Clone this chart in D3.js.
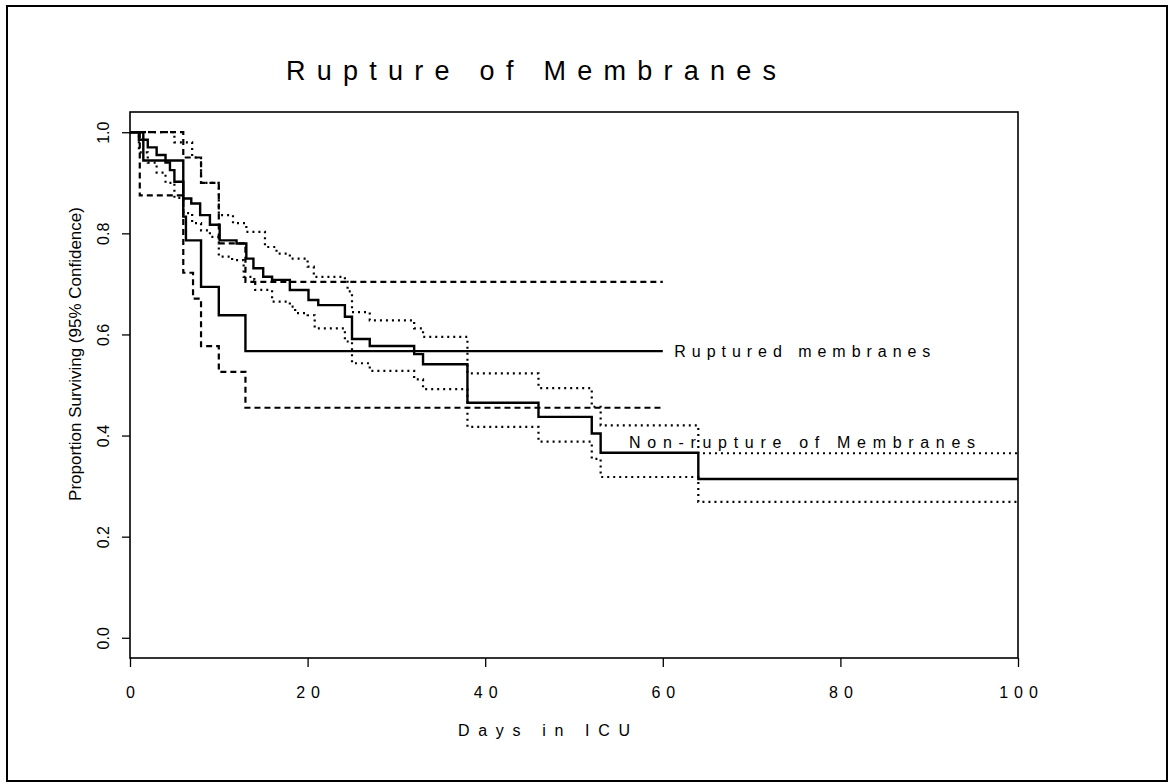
<!DOCTYPE html>
<html><head><meta charset="utf-8">
<script src="https://cdn.jsdelivr.net/npm/d3@7"></script>
<style>body{margin:0;background:#fff}svg{display:block}text{font-family:Arial,"Liberation Sans",sans-serif;fill:#000}</style>
</head><body><svg id="c" width="1173" height="784"></svg>
<script>
// ---- data ----
const xTicks = [0, 20, 40, 60, 80, 100];
const xTickLabels = ["0", "20", "40", "60", "80", "100"];
const yTicks = [0, 0.2, 0.4, 0.6, 0.8, 1.0];
const yTickLabels = ["0.0", "0.2", "0.4", "0.6", "0.8", "1.0"];

const rupDays  = [0, 1.5, 6, 6.3, 8, 10, 13, 60];
const rupSurv  = [1.0, 0.944, 0.833, 0.786, 0.694, 0.638, 0.567, 0.567];
const rupUpDays = [0, 6, 8, 10, 13, 60];
const rupUp     = [1.0, 0.95, 0.9, 0.78, 0.704, 0.704];
const rupLoDays = [0, 1.1, 6, 7.1, 8, 10, 13, 60];
const rupLo     = [1.0, 0.875, 0.722, 0.671, 0.577, 0.526, 0.455, 0.455];

const nonDays = [0, 1, 2, 3, 4, 4.5, 5, 6, 6.9, 7.9, 9, 10.1, 12, 13.1, 13.9, 15, 16, 18, 20.1, 21.2, 24.2, 25, 27, 32, 33, 38, 46, 52, 53, 64, 100];
const nonSurv = [1, 0.985, 0.97, 0.955, 0.94, 0.925, 0.902, 0.869, 0.859, 0.836, 0.817, 0.786, 0.78, 0.75, 0.731, 0.714, 0.708, 0.688, 0.668, 0.658, 0.635, 0.591, 0.577, 0.561, 0.541, 0.465, 0.437, 0.404, 0.366, 0.314, 0.314];
const nonUpDays = [0, 3, 5, 7, 8, 10, 11.6, 13.1, 15.2, 16.5, 18, 20, 20.7, 24.2, 24.5, 25, 27, 32, 33, 38, 46, 52, 53, 64, 100];
const nonUp     = [1, 1, 0.98, 0.95, 0.9, 0.836, 0.82, 0.803, 0.773, 0.76, 0.75, 0.734, 0.714, 0.708, 0.685, 0.644, 0.628, 0.612, 0.595, 0.523, 0.494, 0.457, 0.42, 0.365, 0.365];
const nonLoDays = [0, 1, 2, 3, 4, 5, 6, 7, 8, 9, 10, 11.5, 12.8, 14, 14.1, 16, 18, 18.6, 20, 20.8, 24.2, 25, 27, 32, 33, 38, 46, 52, 53, 64, 100];
const nonLo     = [1, 0.96, 0.94, 0.92, 0.9, 0.87, 0.84, 0.82, 0.806, 0.793, 0.754, 0.747, 0.714, 0.708, 0.688, 0.665, 0.655, 0.642, 0.638, 0.612, 0.586, 0.543, 0.528, 0.511, 0.492, 0.417, 0.388, 0.354, 0.318, 0.269, 0.269];

const title = "Rupture of Membranes";
const xLabel = "Days in ICU";
const yLabel = "Proportion Surviving (95% Confidence)";
const rupLabel = "Ruptured membranes";
const nonLabel = "Non-rupture of Membranes";

// ---- drawing ----
const svg = d3.select("#c");
const L = 130, R = 1018, T = 112, B = 658;
const x = d3.scaleLinear().domain([0, 100]).range([L, R]);
const y = d3.scaleLinear().domain([-0.04, 1.04]).range([B, T]);

svg.append("rect").attr("x", 7).attr("y", 6).attr("width", 1160).attr("height", 775)
  .attr("fill", "none").attr("stroke", "#000").attr("stroke-width", 2);
svg.append("rect").attr("x", L).attr("y", T).attr("width", R - L).attr("height", B - T)
  .attr("fill", "none").attr("stroke", "#000").attr("stroke-width", 1.6);

const gx = svg.append("g").attr("transform", `translate(0,${B})`)
  .call(d3.axisBottom(x).tickValues(xTicks).tickSize(9).tickFormat((d, i) => xTickLabels[i]));
gx.select(".domain").remove();
gx.selectAll("line").attr("stroke", "#000").attr("stroke-width", 1.3);
gx.selectAll("text").attr("font-size", 16).attr("dy", "0").attr("y", 40)
  .attr("letter-spacing", "6px").attr("dx", "3");

const gy = svg.append("g").attr("transform", `translate(${L},0)`)
  .call(d3.axisLeft(y).tickValues(yTicks).tickSize(8).tickFormat((d, i) => yTickLabels[i]));
gy.select(".domain").remove();
gy.selectAll("line").attr("stroke", "#000").attr("stroke-width", 1.3);
gy.selectAll("text").attr("font-size", 16).attr("x", 0).attr("dy", 0)
  .attr("text-anchor", "middle")
  .attr("transform", "translate(-21,0) rotate(-90)");

svg.append("text").attr("x", 286).attr("y", 80).attr("font-size", 27)
  .attr("textLength", 490).attr("lengthAdjust", "spacing").text(title);
svg.append("text").attr("x", 458).attr("y", 736).attr("font-size", 16)
  .attr("textLength", 172).attr("lengthAdjust", "spacing").text(xLabel);
svg.append("text").attr("transform", `translate(81,354) rotate(-90)`)
  .attr("text-anchor", "middle").attr("font-size", 17).text(yLabel);

const mk = (ds, vs) => ds.map((d, i) => [d, vs[i]]);
const line = d3.line().x(d => x(d[0])).y(d => y(d[1])).curve(d3.curveStepAfter);
const g = svg.append("g").attr("fill", "none").attr("stroke", "#000");
g.append("path").attr("d", line(mk(nonUpDays, nonUp))).attr("stroke-width", 2.2).attr("stroke-dasharray", "2,4");
g.append("path").attr("d", line(mk(nonLoDays, nonLo))).attr("stroke-width", 2.2).attr("stroke-dasharray", "2,4");
g.append("path").attr("d", line(mk(rupUpDays, rupUp))).attr("stroke-width", 2.2).attr("stroke-dasharray", "6,4");
g.append("path").attr("d", line(mk(rupLoDays, rupLo))).attr("stroke-width", 2.2).attr("stroke-dasharray", "6,4");
g.append("path").attr("d", line(mk(nonDays, nonSurv))).attr("stroke-width", 2.4);
g.append("path").attr("d", line(mk(rupDays, rupSurv))).attr("stroke-width", 2.4);

svg.append("text").attr("x", x(61.3)).attr("y", y(0.567) + 6).attr("font-size", 16)
  .attr("textLength", 256).attr("lengthAdjust", "spacing").text(rupLabel);
svg.append("text").attr("x", x(56.2)).attr("y", y(0.375)).attr("font-size", 16)
  .attr("textLength", 346).attr("lengthAdjust", "spacing").text(nonLabel);
</script></body></html>
